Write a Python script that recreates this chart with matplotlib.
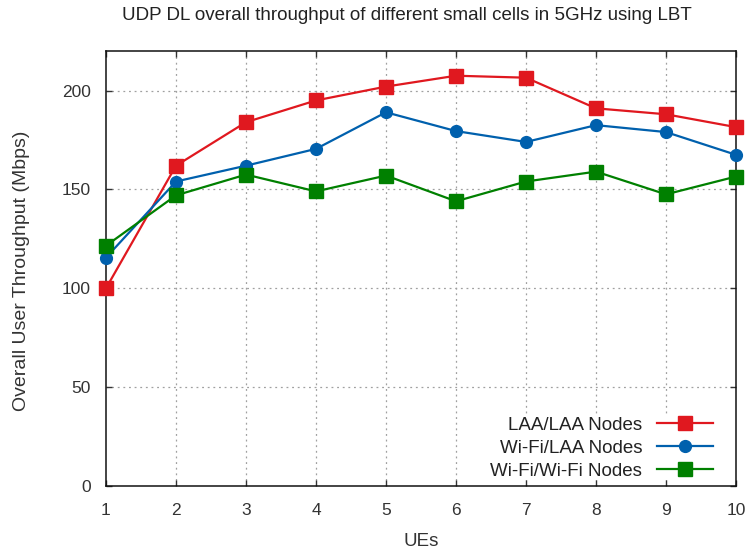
import matplotlib
matplotlib.use("Agg")
import matplotlib.pyplot as plt

# Throughput per number of UEs for each small-cell pairing
ues = [1, 2, 3, 4, 5, 6, 7, 8, 9, 10]
laa_laa = [100, 162, 184, 195, 202, 207.5, 206.5, 191, 188, 181.5]
wifi_laa = [115.5, 154, 162, 170.5, 189, 179.5, 174, 182.5, 179, 167.5]
wifi_wifi = [121.5, 147, 157.5, 149, 157, 144, 154, 159, 147.5, 156.5]

series_labels = ["LAA/LAA Nodes", "Wi-Fi/LAA Nodes", "Wi-Fi/Wi-Fi Nodes"]
y_ticks = [0, 50, 100, 150, 200]

plt.rcParams["font.family"] = ["Liberation Sans", "DejaVu Sans"]

fig = plt.figure(figsize=(7.5, 5.54), dpi=100)
ax = fig.add_axes([106 / 750, 68 / 554, 630 / 750, 435 / 554])

red = "#e0181f"
blue = "#0060ad"
green = "#008000"

common = dict(lw=1.6, zorder=3, clip_on=False)
ax.plot(ues, laa_laa, color=red, marker="s", ms=9.5, label=series_labels[0], **common)
ax.plot(ues, wifi_laa, color=blue, marker="o", ms=8.5, label=series_labels[1], **common)
ax.plot(ues, wifi_wifi, color=green, marker="s", ms=9.5, label=series_labels[2], **common)

ax.set_xlim(1, 10)
ax.set_ylim(0, 220)
ax.set_xticks(ues)
ax.set_yticks(y_ticks)

# dotted grid drawn beneath the key box, so the key hides it but not the ticks
grid_style = dict(color="#a0a0a0", linestyle=(0, (1.5, 3)), linewidth=0.9, zorder=1.0)
for xv in ues[1:-1]:
    ax.axvline(xv, **grid_style)
for yv in y_ticks[1:]:
    ax.axhline(yv, **grid_style)

ax.tick_params(direction="in", length=4, width=1, top=True, right=True,
               labelsize=12.5, colors="#333333")
ax.tick_params(axis="y", pad=11)
ax.tick_params(axis="x", pad=12)
for s in ax.spines.values():
    s.set_linewidth(1.1)
    s.set_color("#111111")

ax.set_xlabel("UEs", fontsize=13.5, color="#333333")
ax.set_ylabel("Overall User Throughput (Mbps)", fontsize=14, color="#333333")
ax.xaxis.set_label_coords(421 / 750, 12 / 554, transform=fig.transFigure)
ax.yaxis.set_label_coords(22 / 750, 1 - 271 / 554, transform=fig.transFigure)
ax.xaxis.label.set_va("center")
ax.yaxis.label.set_va("center")
fig.text(407 / 750, 1 - 16 / 554, "UDP DL overall throughput of different small cells in 5GHz using LBT",
         ha="center", va="center", fontsize=13.5, color="#222222")

leg = ax.legend(loc="lower right", bbox_to_anchor=(1 - 23.5 / 630, 6.5 / 435),
                markerfirst=False, frameon=True, fancybox=False,
                edgecolor="none", framealpha=1.0, handlelength=2.95, handletextpad=0.8,
                labelspacing=0.31, borderaxespad=0.0, borderpad=0.0, fontsize=13.5)
leg.set_zorder(1.2)
for col in leg._legend_handle_box.get_children():
    col.align = "right"
for t in leg.get_texts():
    t.set_color("#222222")

fig.savefig("out.png", dpi=100)
